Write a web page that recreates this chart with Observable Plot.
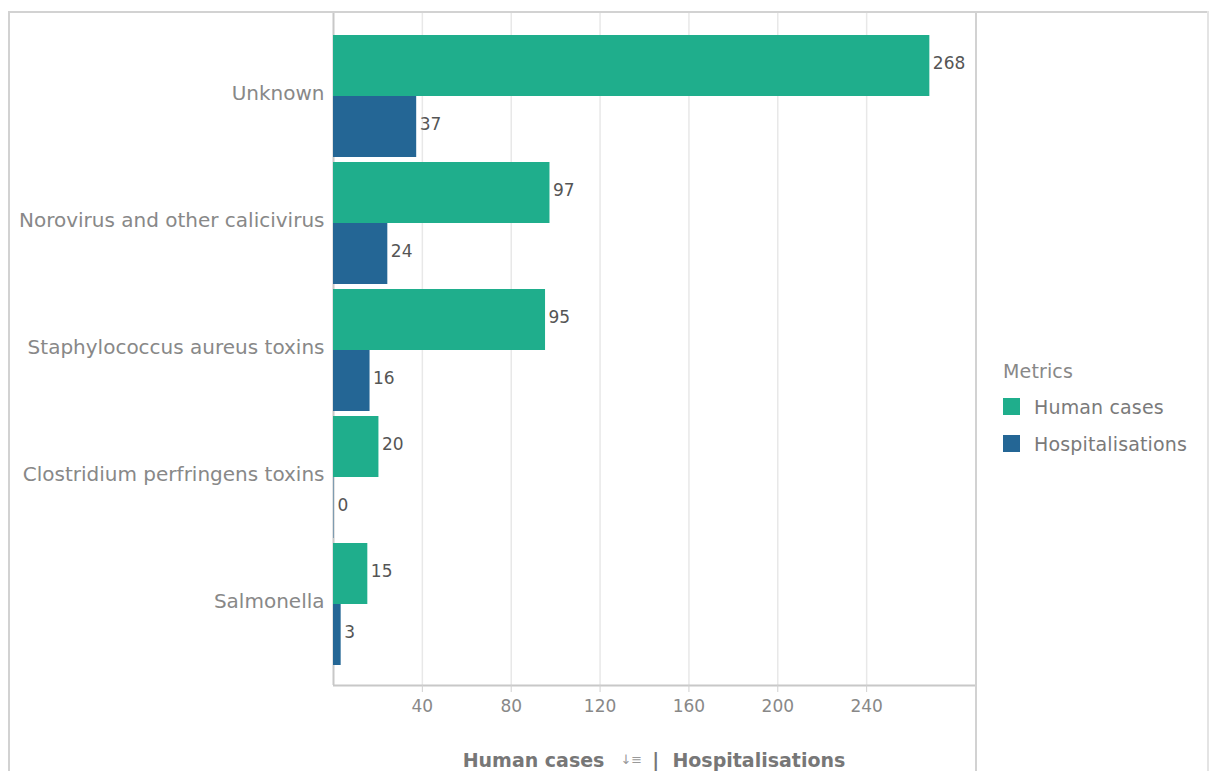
<!DOCTYPE html>
<html>
<head>
<meta charset="utf-8">
<script src="https://cdn.jsdelivr.net/npm/d3@7"></script>
<script src="https://cdn.jsdelivr.net/npm/@observablehq/plot@0.6"></script>
<style>
  html, body { margin: 0; padding: 0; background: #fff; }
  #wrap { position: relative; width: 1209px; height: 771px; overflow: hidden; font-family: "DejaVu Sans", Verdana, sans-serif; }
  #wrap svg { position: absolute; left: 0; top: 0; }
  .line { position: absolute; background: #d2d2d2; }
  #legend { position: absolute; left: 1003px; top: 358px; color: #888; font-size: 19px; letter-spacing: 0.15px; }
  #legend .title { height: 26px; line-height: 26px; margin-bottom: 4px; }
  #legend .item { display: flex; align-items: center; height: 37px; color: #7a7a7a; }
  #legend .sw { width: 17px; height: 17px; margin-right: 14px; }
  #xlabel { position: absolute; left: 333px; width: 642px; top: 749px; text-align: center; font-weight: bold; font-size: 19px; color: #777; white-space: nowrap; }
  #xlabel .icon { font-weight: normal; font-size: 13px; color: #999; margin: 0 10px 0 16px; position: relative; top: -3px; }
</style>
</head>
<body>
<div id="wrap">
  <div id="bg"></div>
  <div id="fg"></div>
  <div class="line" style="left:8px; top:11px; width:2px; height:760px;"></div>
  <div class="line" style="left:8px; top:11px; width:1201px; height:2px;"></div>
  <div class="line" style="left:1207px; top:11px; width:2px; height:760px; background:#e4e4e4;"></div>
  <div class="line" style="left:975px; top:11px; width:2px; height:760px;"></div>
  <div id="legend"></div>
  <div id="xlabel"></div>
</div>
<script>
const categories = ["Unknown", "Norovirus and other calicivirus", "Staphylococcus aureus toxins", "Clostridium perfringens toxins", "Salmonella"];
const metrics = ["Human cases", "Hospitalisations"];
const humanCases = [268, 97, 95, 20, 15];
const hospitalisations = [37, 24, 16, 0, 3];
const xTicks = [40, 80, 120, 160, 200, 240];
const colors = ["#1fae8c", "#246695"];

const data = categories.flatMap((c, i) => [
  {category: c, metric: metrics[0], value: humanCases[i]},
  {category: c, metric: metrics[1], value: hospitalisations[i]}
]);

const W = 1209, H = 771;
const common = {width: W, height: H, marginLeft: 333, marginRight: 234, marginTop: 13, marginBottom: 86};

const bg = Plot.plot({
  ...common,
  style: {fontFamily: "DejaVu Sans, Verdana, sans-serif", background: "transparent", color: "#888"},
  x: {domain: [0, 289]},
  y: {domain: [0, 1], axis: null},
  marks: [
    Plot.ruleX(xTicks, {stroke: "#e8e8e8", strokeWidth: 1.5}),
    Plot.ruleX([0], {stroke: "#c8c8c8", strokeWidth: 2}),
    Plot.ruleY([0], {stroke: "#c8c8c8", strokeWidth: 2}),
    Plot.axisX({ticks: xTicks, tickSize: 7, tickPadding: 7, fontSize: 17, label: null, stroke: "#d0d0d0", fill: "#888"})
  ]
});
document.getElementById("bg").appendChild(bg);

const fg = Plot.plot({
  ...common,
  style: {fontFamily: "DejaVu Sans, Verdana, sans-serif", background: "transparent", color: "#888"},
  x: {domain: [0, 289], axis: null},
  y: {domain: metrics, padding: 0, axis: null},
  fy: {domain: categories, paddingInner: 4 / 127, paddingOuter: 0.161, label: null},
  color: {domain: metrics, range: colors},
  marks: [
    Plot.axisFy({anchor: "left", tickSize: 0, tickPadding: 9, fontSize: 20, dy: -2, label: null, fill: "#888"}),
    Plot.barX(data, {x: "value", y: "metric", fy: "category", fill: "metric", fillOpacity: d => d.value === 0 ? 0.45 : 1, insetRight: -1}),
    Plot.text(data, {x: "value", y: "metric", fy: "category", text: d => String(d.value), textAnchor: "start", dx: 4, dy: -2, fill: "#555", fontSize: 17})
  ]
});
document.getElementById("fg").appendChild(fg);

const legend = document.getElementById("legend");
legend.innerHTML = `<div class="title">Metrics</div>` + metrics.map((m, i) =>
  `<div class="item"><span class="sw" style="background:${colors[i]}"></span>${m}</div>`).join("");

document.getElementById("xlabel").innerHTML =
  `${metrics[0]}<span class="icon">↓≡</span>|&nbsp;&nbsp;${metrics[1]}`;
</script>
</body>
</html>
